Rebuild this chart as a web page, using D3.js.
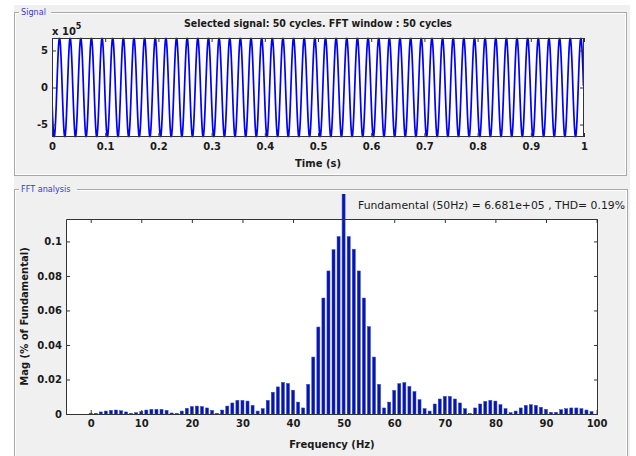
<!DOCTYPE html>
<html>
<head>
<meta charset="utf-8">
<script src="https://cdn.jsdelivr.net/npm/d3@7"></script>
<style>
  body { margin: 0; background: #fff; }
  svg { display: block; }
  .tick text { font-family: "DejaVu Sans", sans-serif; font-weight: bold; font-size: 10px; fill: #1a1a1a; }
  .tick line { stroke: #333; }
  .domain { display: none; }
</style>
</head>
<body>
<div id="chart"></div>
<script>
// one cycle of the 50 Hz signal, sampled at 1 kHz (20 samples), values in V
var cycleSamples = [-1.86e5, -3.75e5, -5.28e5, -6.29e5, -6.68e5, -6.41e5, -5.53e5, -4.10e5, -2.26e5, -0.21e5,
                    1.86e5, 3.75e5, 5.28e5, 6.29e5, 6.68e5, 6.41e5, 5.53e5, 4.10e5, 2.26e5, 0.21e5];
var nCycles = 50;
var sampleTime = 0.001;
var timeTicks = [0, 0.1, 0.2, 0.3, 0.4, 0.5, 0.6, 0.7, 0.8, 0.9, 1];
var signalTicks = [-5e5, 0, 5e5];

// FFT magnitudes (% of fundamental), bins 0..100 Hz
var freqs = d3.range(0, 101);
var mags = [0.0003, 0.0004, 0.0012, 0.0017, 0.0021, 0.0023, 0.0019, 0.0012, 0.0004, 0.0008,
            0.0014, 0.0023, 0.0027, 0.0027, 0.0027, 0.0021, 0.0006, 0.0004, 0.0017, 0.0033,
            0.0043, 0.0046, 0.0043, 0.0035, 0.0021, 0.0004, 0.0023, 0.0046, 0.0064, 0.0079,
            0.0079, 0.0075, 0.0050, 0.0017, 0.0031, 0.0079, 0.0126, 0.0157, 0.0183, 0.0177,
            0.0138, 0.0069, 0.0035, 0.0172, 0.0330, 0.0504, 0.0672, 0.0829, 0.0952, 0.1028,
            100, 0.1028, 0.0955, 0.0829, 0.0672, 0.0506, 0.0330, 0.0172, 0.0035, 0.0069,
            0.0137, 0.0176, 0.0182, 0.0160, 0.0130, 0.0083, 0.0031, 0.0017, 0.0058, 0.0087,
            0.0102, 0.0102, 0.0087, 0.0064, 0.0031, 0.0002, 0.0035, 0.0058, 0.0073, 0.0079,
            0.0075, 0.0054, 0.0031, 0.0008, 0.0017, 0.0035, 0.0050, 0.0054, 0.0050, 0.0039,
            0.0027, 0.0010, 0.0010, 0.0025, 0.0031, 0.0035, 0.0035, 0.0031, 0.0023, 0.0014,
            0];
var freqTicks = [0, 10, 20, 30, 40, 50, 60, 70, 80, 90, 100];
var magTicks = [0, 0.02, 0.04, 0.06, 0.08, 0.1];

var fundamentalText = "Fundamental (50Hz) = 6.681e+05 , THD= 0.19%";
var signalTitle = "Selected signal: 50 cycles. FFT window : 50 cycles";

var width = 636, height = 456;

var svg = d3.select("#chart").append("svg")
    .attr("width", width)
    .attr("height", height);

// figure background + group boxes
svg.append("rect").attr("x", 14).attr("y", 5).attr("width", 616).attr("height", 451).attr("fill", "#f0f0f0");

function groupBox(x, y, w, h, label, labelW) {
    var g = svg.append("g");
    g.append("rect").attr("x", x + 0.5).attr("y", y + 0.5).attr("width", w).attr("height", h)
        .attr("fill", "none").attr("stroke", "#a8a8a8");
    g.append("rect").attr("x", x + 1.5).attr("y", y + 1.5).attr("width", w - 2).attr("height", h - 2)
        .attr("fill", "none").attr("stroke", "#ffffff");
    g.append("rect").attr("x", x + 5).attr("y", y - 6).attr("width", labelW).attr("height", 12).attr("fill", "#f0f0f0");
    g.append("text").attr("x", x + 7).attr("y", y + 3)
        .style("font-family", "'DejaVu Sans Condensed', 'DejaVu Sans', sans-serif")
        .style("font-size", "9px")
        .attr("fill", "#3a3ac8")
        .text(label);
}
groupBox(14, 12, 612, 163, "Signal", 32);
groupBox(14, 189, 613, 280, "FFT analysis", 58);

// ---------------- signal plot ----------------
var sx = d3.scaleLinear().domain([0, 1]).range([52, 584]);
var sy = d3.scaleLinear().domain([-6.681e5, 6.681e5]).range([137, 38]);

var signal = [];
for (var c = 0; c < nCycles; c++) {
    cycleSamples.forEach(function (v, k) {
        signal.push({ t: (c * cycleSamples.length + k) * sampleTime, v: v });
    });
}

svg.append("rect").attr("x", 52).attr("y", 38).attr("width", 532).attr("height", 99).attr("fill", "#fff");

svg.append("clipPath").attr("id", "sclip")
    .append("rect").attr("x", 52).attr("y", 37).attr("width", 532).attr("height", 101);

svg.append("path")
    .datum(signal)
    .attr("clip-path", "url(#sclip)")
    .attr("fill", "none")
    .attr("stroke", "#0000ff")
    .attr("stroke-width", 1.7)
    .attr("d", d3.line().x(function (d) { return sx(d.t); }).y(function (d) { return sy(d.v); }));

svg.append("g").attr("transform", "translate(0,137)")
    .call(d3.axisBottom(sx).tickValues(timeTicks).tickSizeInner(-4).tickSizeOuter(0).tickPadding(6)
        .tickFormat(function (d) { return d3.format("")(d); }));
svg.append("g").attr("transform", "translate(0,38)")
    .call(d3.axisTop(sx).tickValues(timeTicks).tickSizeInner(-4).tickSizeOuter(0).tickFormat(""));
svg.append("g").attr("transform", "translate(52,0)")
    .call(d3.axisLeft(sy).tickValues(signalTicks).tickSizeInner(-4).tickSizeOuter(0).tickPadding(4)
        .tickFormat(function (d) { return d / 1e5; }));
svg.append("g").attr("transform", "translate(584,0)")
    .call(d3.axisRight(sy).tickValues(signalTicks).tickSizeInner(-4).tickSizeOuter(0).tickFormat(""));

svg.append("rect").attr("x", 52.5).attr("y", 38.5).attr("width", 531).attr("height", 98)
    .attr("fill", "none").attr("stroke", "#333");

var bold = "font-family:'DejaVu Sans',sans-serif;font-weight:bold;font-size:10px;fill:#1a1a1a";

var xt = svg.append("text").attr("x", 52).attr("y", 35).attr("style", bold);
xt.append("tspan").text("x 10");
xt.append("tspan").attr("dy", -6).style("font-size", "8px").text("5");

svg.append("text").attr("x", 318).attr("y", 27).attr("text-anchor", "middle")
    .attr("style", bold).attr("textLength", 268).attr("lengthAdjust", "spacingAndGlyphs")
    .text(signalTitle);

svg.append("text").attr("x", 318).attr("y", 167).attr("text-anchor", "middle")
    .attr("style", bold).text("Time (s)");

// ---------------- FFT plot ----------------
var fx = d3.scaleLinear().domain([-4.88, 100.28]).range([66, 598]);
var fy = d3.scaleLinear().domain([0, 0.113]).range([414, 219]);
var barW = fx(0.6) - fx(0);

svg.append("rect").attr("x", 66).attr("y", 219).attr("width", 532).attr("height", 195).attr("fill", "#fff");

svg.append("clipPath").attr("id", "fclip")
    .append("rect").attr("x", 66).attr("y", 194).attr("width", 532).attr("height", 220);

svg.append("g").attr("clip-path", "url(#fclip)")
    .selectAll("rect")
    .data(freqs)
    .join("rect")
    .attr("x", function (d) { return fx(d) - barW / 2; })
    .attr("y", function (d, i) { return fy(mags[i]); })
    .attr("width", barW)
    .attr("height", function (d, i) { return Math.max(0, 414 - fy(mags[i])); })
    .attr("fill", "#0a14aa")
    .attr("stroke", "#2a48d0")
    .attr("stroke-width", 0.5);

svg.append("g").attr("transform", "translate(0,414)")
    .call(d3.axisBottom(fx).tickValues(freqTicks).tickSizeInner(-4).tickSizeOuter(0).tickPadding(6));
svg.append("g").attr("transform", "translate(0,219)")
    .call(d3.axisTop(fx).tickValues(freqTicks).tickSizeInner(-4).tickSizeOuter(0).tickFormat(""));
svg.append("g").attr("transform", "translate(66,0)")
    .call(d3.axisLeft(fy).tickValues(magTicks).tickSizeInner(-4).tickSizeOuter(0).tickPadding(4)
        .tickFormat(function (d) { return d3.format("")(+d.toFixed(2)); }));
svg.append("g").attr("transform", "translate(598,0)")
    .call(d3.axisRight(fy).tickValues(magTicks).tickSizeInner(-4).tickSizeOuter(0).tickFormat(""));

svg.append("path")
    .attr("d", "M66.5,219.5H597.5V414.5M66.5,414.5V219.5")
    .attr("fill", "none").attr("stroke", "#333");
svg.append("line").attr("x1", 66).attr("x2", 598).attr("y1", 414.5).attr("y2", 414.5).attr("stroke", "#333");

svg.append("text").attr("x", 625).attr("y", 209).attr("text-anchor", "end")
    .style("font-family", "'DejaVu Sans', sans-serif").style("font-size", "10.5px").attr("fill", "#1a1a1a")
    .attr("textLength", 267).attr("lengthAdjust", "spacingAndGlyphs")
    .text(fundamentalText);

svg.append("text").attr("x", 332).attr("y", 448).attr("text-anchor", "middle")
    .attr("style", bold).text("Frequency (Hz)");

svg.append("text").attr("transform", "translate(28,316.5) rotate(-90)").attr("text-anchor", "middle")
    .attr("style", bold).text("Mag (% of Fundamental)");
</script>
</body>
</html>
